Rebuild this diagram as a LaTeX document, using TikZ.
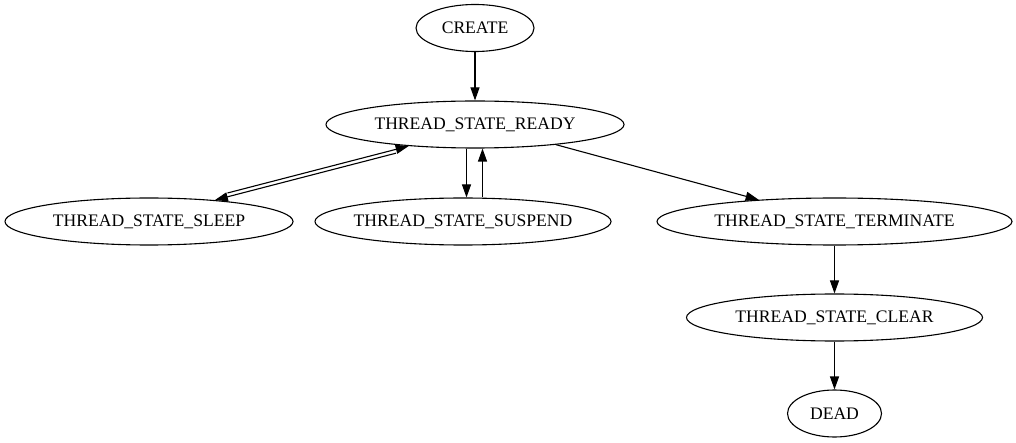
\documentclass[tikz,border=0pt]{standalone}
\usepackage{fontspec}
\setmainfont{Liberation Serif}
\usetikzlibrary{shapes.geometric,arrows.meta}
\newcommand{\nb}[1]{\makebox[0pt]{#1}}
\begin{document}
\begin{tikzpicture}[x=1pt,y=-1pt,
  st/.style={ellipse, draw, line width=1.1pt, inner sep=0pt, minimum height=47pt,
             font=\fontsize{17.6}{20}\selectfont},
  edge/.style={draw, line width=1.1pt, -{Triangle[length=13pt,width=9pt]}}]
\useasboundingbox (0,0) rectangle (1016,443);
\node[st, minimum width=118pt] (create) at (475,28) {\nb{CREATE}};
\node[st, minimum width=298pt] (ready) at (475,124.5) {\nb{THREAD\_STATE\_READY}};
\node[st, minimum width=288pt] (sleep) at (149,221.5) {\nb{THREAD\_STATE\_SLEEP}};
\node[st, minimum width=296pt] (suspend) at (463,221.5) {\nb{THREAD\_STATE\_SUSPEND}};
\node[st, minimum width=355pt] (terminate) at (834.5,221.5) {\nb{THREAD\_STATE\_TERMINATE}};
\node[st, minimum width=296pt] (clear) at (834.5,317.5) {\nb{THREAD\_STATE\_CLEAR}};
\node[st, minimum width=94pt] (dead) at (834.5,413.5) {\nb{DEAD}};
\draw[edge] (create) -- (ready);
\draw[edge] ([shift={(-12.6,7.1)}]ready.198.3) -- (sleep.18.5);
\draw[edge] ([shift={(12.6,-7.1)}]sleep.18.5) -- (ready.198.3);
\draw[edge] ([xshift=-8.5pt]ready.south) -- ([xshift=3.5pt]suspend.north);
\draw[edge] ([xshift=19.5pt]suspend.north) -- ([xshift=7.5pt]ready.south);
\draw[edge] (ready.-14.8) -- (terminate.164.9);
\draw[edge] (terminate) -- (clear);
\draw[edge] (clear) -- (dead);
\end{tikzpicture}
\end{document}
